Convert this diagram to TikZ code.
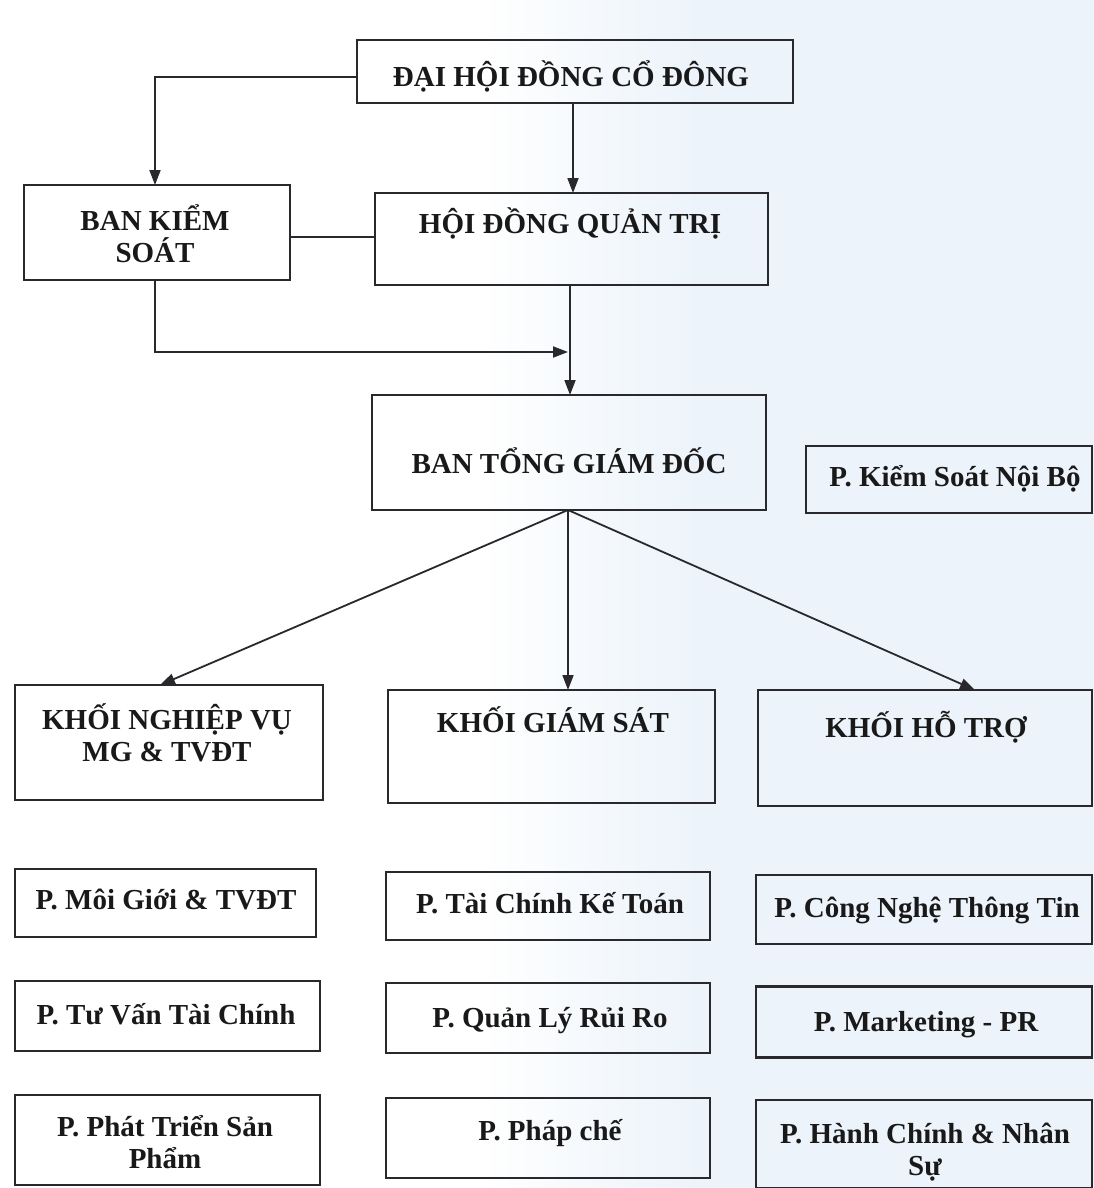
\documentclass[tikz,border=0pt]{standalone}
\usepackage{fontspec}
\setmainfont{Liberation Serif}
\usetikzlibrary{arrows.meta}
\definecolor{paperblue}{RGB}{236,243,250}
\definecolor{inkline}{RGB}{40,40,45}
\tikzset{
  box/.style={draw=inkline, line width=2.2pt, inner sep=0pt, outer sep=0pt},
  lbl/.style={font=\fontsize{29}{32}\selectfont\bfseries, text=black!90, inner sep=0pt, align=center, anchor=base},
  conn/.style={draw=inkline, line width=1.8pt},
  arr/.style={conn, -{Triangle[length=15pt,width=11pt]}}
}
\begin{document}
\begin{tikzpicture}[x=1pt,y=-1pt]
\useasboundingbox (0,0) rectangle (1094,1188);
% paper background
\fill[white] (0,0) rectangle (1094,1188);
\shade[left color=white, right color=paperblue] (480,0) rectangle (700,1188);
\fill[paperblue] (700,0) rectangle (1094,1188);

% boxes
\node[box, minimum width=436pt, minimum height=63pt] (dh) at (575,71.5) {};
\node[box, minimum width=266pt, minimum height=95pt] (bks) at (157,232.5) {};
\node[box, minimum width=393pt, minimum height=92pt] (hdqt) at (571.5,239) {};
\node[box, minimum width=394pt, minimum height=115pt] (btgd) at (569,452.5) {};
\node[box, minimum width=286pt, minimum height=67pt] (pksnb) at (949,479.5) {};
\node[box, minimum width=308pt, minimum height=115pt] (knv) at (169,742.5) {};
\node[box, minimum width=327pt, minimum height=113pt] (kgs) at (551.5,746.5) {};
\node[box, minimum width=334pt, minimum height=116pt] (kht) at (925,748) {};
\node[box, minimum width=301pt, minimum height=68pt] (pmg) at (165.5,903) {};
\node[box, minimum width=324pt, minimum height=68pt] (ptckt) at (548,906) {};
\node[box, minimum width=336pt, minimum height=69pt] (pcntt) at (924,909.5) {};
\node[box, minimum width=305pt, minimum height=70pt] (ptv) at (167.5,1016) {};
\node[box, minimum width=324pt, minimum height=70pt] (pqlrr) at (548,1018) {};
\node[box, minimum width=336pt, minimum height=71pt] (pmpr) at (924,1022) {};
\node[box, minimum width=305pt, minimum height=90pt] (pptsp) at (167.5,1140) {};
\node[box, minimum width=324pt, minimum height=80pt] (ppc) at (548,1138) {};
\node[box, minimum width=336pt, minimum height=88pt] (phc) at (924,1144) {};

% labels (base anchor = baseline of the last line)
\node[lbl] (dh-t) at (571,87) {ĐẠI HỘI ĐỒNG CỔ ĐÔNG};
\node[lbl] (bks-t) at (155,262) {BAN KIỂM\\SOÁT};
\node[lbl] (hdqt-t) at (570,233) {HỘI ĐỒNG QUẢN TRỊ};
\node[lbl] (btgd-t) at (569,473) {BAN TỔNG GIÁM ĐỐC};
\node[lbl] (pksnb-t) at (955,486) {P. Kiểm Soát Nội Bộ};
\node[lbl] (knv-t) at (167,761) {KHỐI NGHIỆP VỤ\\MG \& TVĐT};
\node[lbl] (kgs-t) at (553,732) {KHỐI GIÁM SÁT};
\node[lbl] (kht-t) at (926,737) {KHỐI HỖ TRỢ};
\node[lbl] (pmg-t) at (166,909) {P. Môi Giới \& TVĐT};
\node[lbl] (ptckt-t) at (550,913) {P. Tài Chính Kế Toán};
\node[lbl] (pcntt-t) at (927,917) {P. Công Nghệ Thông Tin};
\node[lbl] (ptv-t) at (166,1024) {P. Tư Vấn Tài Chính};
\node[lbl] (pqlrr-t) at (550,1027) {P. Quản Lý Rủi Ro};
\node[lbl] (pmpr-t) at (926,1031) {P. Marketing - PR};
\node[lbl] (pptsp-t) at (165,1168) {P. Phát Triển Sản\\Phẩm};
\node[lbl] (ppc-t) at (550,1140) {P. Pháp chế};
\node[lbl] (phc-t) at (925,1175) {P. Hành Chính \& Nhân\\Sự};

% connectors
\coordinate (kink1) at (155,77);
\draw[arr] (dh.west |- kink1) -- (kink1) -- (kink1 |- bks.north);
\draw[arr] (573,0 |- dh.south) -- (573,0 |- hdqt.north);
\draw[conn] (bks.east |- 0,237) -- (hdqt.west |- 0,237);
\coordinate (kink2) at (155,352);
\coordinate (join) at (568,352);
\draw[arr] (kink2 |- bks.south) -- (kink2) -- (join);
\draw[arr] (570,0 |- hdqt.south) -- (570,0 |- btgd.north);
\coordinate (fan) at (568,0 |- btgd.south);
\draw[arr] (fan) -- (160,0 |- knv.north);
\draw[arr] (fan) -- (568,0 |- kgs.north);
\draw[arr] (fan) -- (975,0 |- kht.north);
\end{tikzpicture}
\end{document}
